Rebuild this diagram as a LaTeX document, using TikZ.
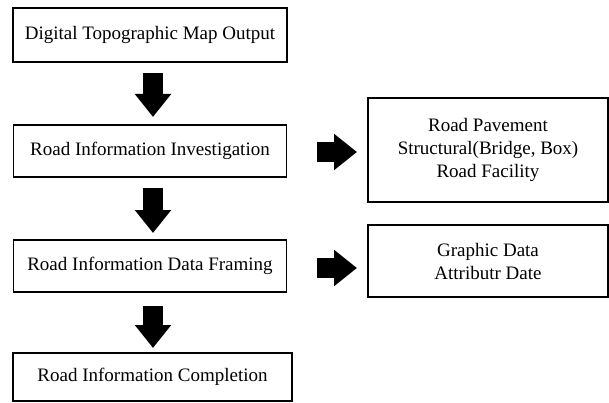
\documentclass[tikz,border=0pt]{standalone}
\usepackage{fontspec}
\setmainfont{Liberation Serif}
\newcommand*{\boxfont}{\fontsize{19}{23}\selectfont}
\definecolor{frame}{rgb}{0.00,0.00,0.00}
\usetikzlibrary{arrows.meta}
\tikzstyle{base}=[x=1pt, y=-1pt, inner sep=0pt, outer sep=0pt]
\tikzstyle{stagebox}=[draw=frame, line width=1.1pt, align=center, font=\boxfont]
\tikzstyle{blockarrow}=[frame, line width=20pt, -{Triangle[length=23pt, width=35pt]}]

\begin{document}
\begin{tikzpicture}[base]
    \useasboundingbox (0,0) rectangle (609,403);
        % main chain
        \node [stagebox, minimum width=274pt, minimum height=54pt] (map) at (150,35) {Digital Topographic Map Output};
        \node [stagebox, minimum width=273pt, minimum height=52pt] (survey) at (150,151) {Road Information Investigation};
        \node [stagebox, minimum width=273pt, minimum height=52pt] (framing) at (150,266) {Road Information Data Framing};
        \node [stagebox, minimum width=279pt, minimum height=48pt] (done) at (152.5,377) {Road Information Completion};
        % side boxes
        \node [stagebox, minimum width=240pt, minimum height=104pt] (items) at (488,150) {Road Pavement\\Structural(Bridge, Box)\\Road Facility};
        \node [stagebox, minimum width=240pt, minimum height=72pt] (data) at (488,261) {Graphic Data\\Attributr Date};
        % block arrows
        \draw [blockarrow, shorten <=11pt, shorten >=8pt] ([xshift=3pt]map.south) -- ([xshift=3pt]survey.north);
        \draw [blockarrow, shorten <=11pt, shorten >=7pt] ([xshift=3pt]survey.south) -- ([xshift=3pt]framing.north);
        \draw [blockarrow, shorten <=14pt, shorten >=5pt] ([xshift=3pt]framing.south) -- ([xshift=3pt]done.north -| framing.south);
        \draw [blockarrow, shorten <=30pt, shorten >=11pt] ([yshift=-1pt]survey.east) -- ([yshift=-1pt]survey.east -| items.west);
        \draw [blockarrow, shorten <=30pt, shorten >=11pt] ([yshift=-2pt]framing.east) -- ([yshift=-2pt]framing.east -| data.west);
    \end{tikzpicture}
\end{document}
